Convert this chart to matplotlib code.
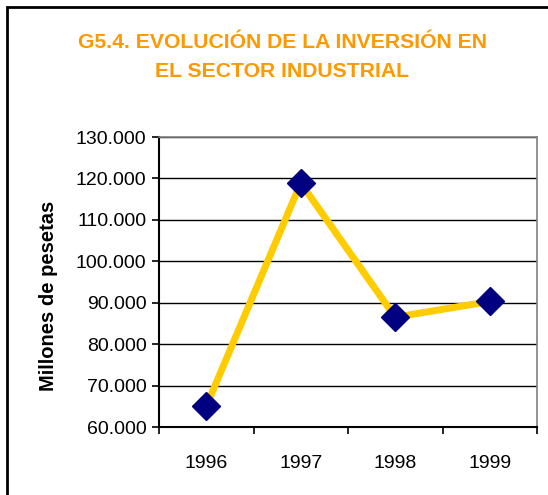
import matplotlib.pyplot as plt
from matplotlib.patches import Rectangle

# datos del grafico
years = ["1996", "1997", "1998", "1999"]
inversion = [65000, 118900, 86500, 90300]
y_ticks = [60000, 70000, 80000, 90000, 100000, 110000, 120000, 130000]
y_labels = ["60.000", "70.000", "80.000", "90.000", "100.000", "110.000", "120.000", "130.000"]

TITULO = "G5.4. EVOLUCIÓN DE LA INVERSIÓN EN\nEL SECTOR INDUSTRIAL"
FILE_ANH = "out.png"

plt.rcParams["font.family"] = ["Liberation Sans", "DejaVu Sans"]


def ve_bieu_do():
    fig = plt.figure(figsize=(5.48, 4.95), dpi=100)
    W, H = 548, 495

    # marco exterior (solo se ven borde izquierdo y superior)
    fig.patches.append(Rectangle((7 / W, -0.05), 1.2, (495 - 7) / H + 0.05,
                                 transform=fig.transFigure, fill=False,
                                 edgecolor="black", linewidth=2))

    fig.text(282 / W, 1 - 57 / H, TITULO, ha="center", va="center",
             color="#FF9900", fontsize=15.2, fontweight="bold",
             linespacing=1.65)

    ax = fig.add_axes([159 / W, 1 - 427 / H, (537 - 159) / W, (427 - 137) / H])
    x = list(range(len(years)))
    ax.plot(x, inversion, color="#FFCC00", linewidth=5, zorder=3,
            marker="D", markersize=14, markerfacecolor="#000080",
            markeredgecolor="#000080")

    ax.set_xlim(-0.5, len(years) - 0.5)
    ax.set_ylim(60000, 130000)
    ax.set_yticks(y_ticks)
    ax.set_yticklabels(y_labels, fontsize=14)
    ax.set_xticks(x)
    ax.set_xticklabels(years, fontsize=14)
    ax.set_xticks([i - 0.5 for i in range(len(years) + 1)], minor=True)
    ax.tick_params(axis="x", which="major", length=0, pad=20)
    ax.tick_params(axis="x", which="minor", length=5, width=1.2, direction="out")
    ax.tick_params(axis="y", length=5, width=1.2, direction="out", pad=4)

    ax.grid(axis="y", color="black", linewidth=1)
    ax.set_axisbelow(True)
    for s in ["top", "right"]:
        ax.spines[s].set_color("#808080")
        ax.spines[s].set_linewidth(1.2)
    for s in ["left", "bottom"]:
        ax.spines[s].set_color("black")
        ax.spines[s].set_linewidth(1.5)

    ax.set_ylabel("Millones de pesetas", fontsize=14.5, fontweight="bold")
    ax.yaxis.set_label_coords(-0.268, 0.452)

    fig.savefig(FILE_ANH, dpi=100)


if __name__ == "__main__":
    ve_bieu_do()
